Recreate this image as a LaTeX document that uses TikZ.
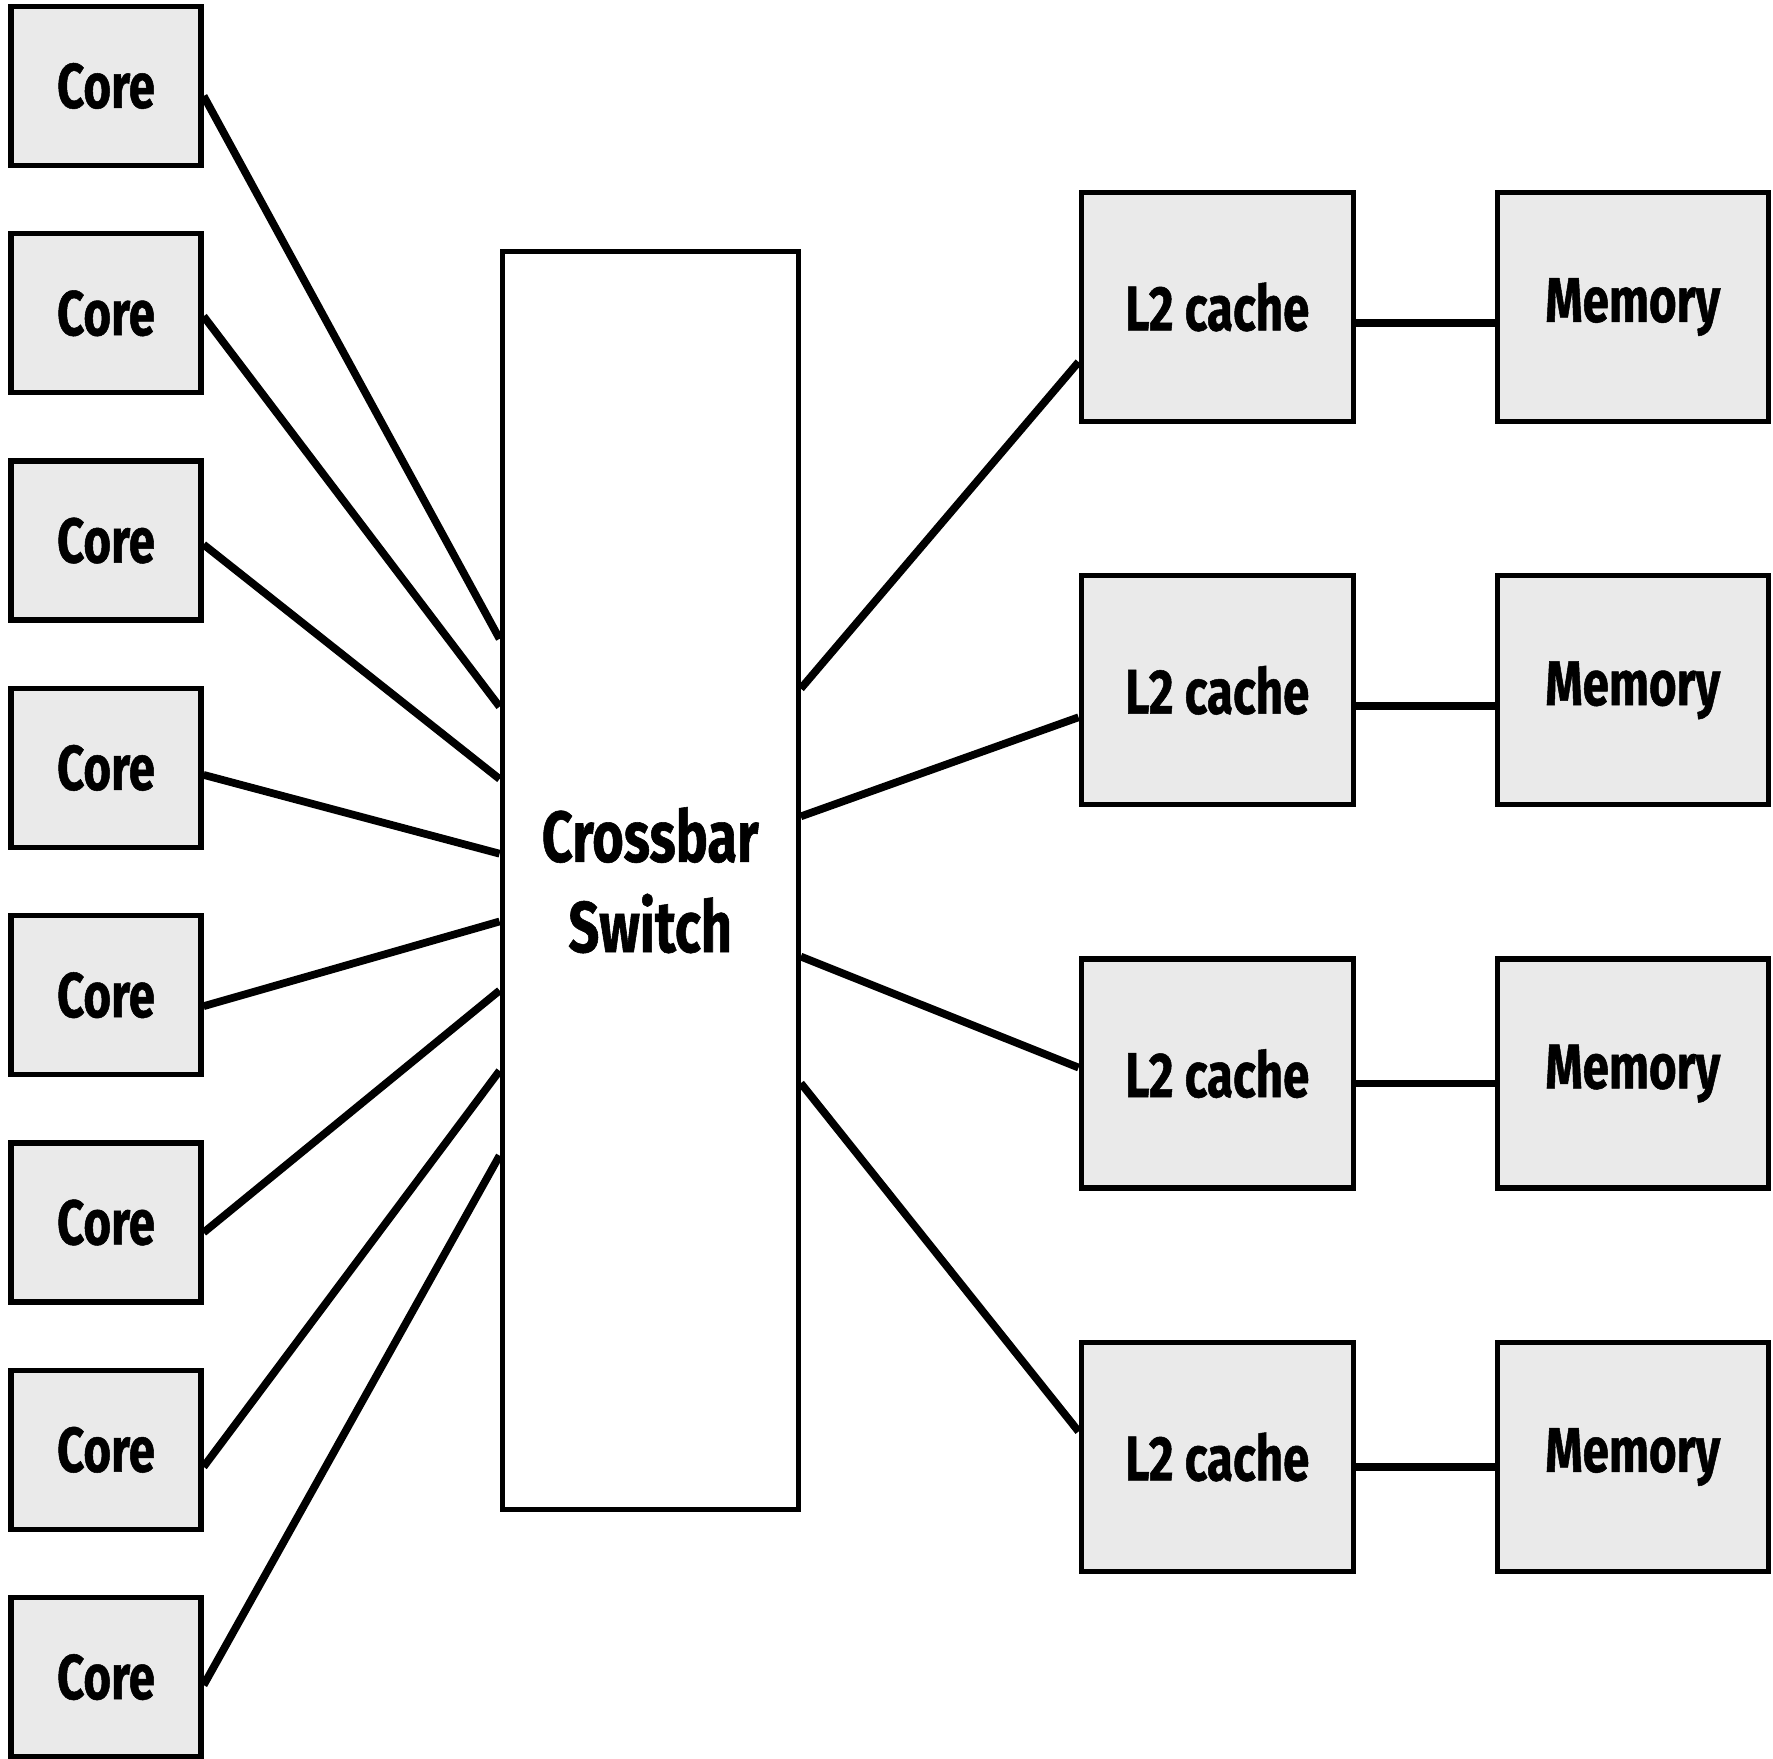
\documentclass[tikz,border=0pt]{standalone}
\usepackage{fontspec}
\usepackage{tikz}
\usetikzlibrary{positioning,calc}

\newfontfamily\condfont{Fira Sans}[FakeStretch=0.75,FakeBold=0.8]
\definecolor{boxgray}{HTML}{EAEAEA}

\tikzset{
  unit/.style={draw, line width=1.5pt, fill=boxgray, inner sep=0pt,
    font=\condfont\bfseries\fontsize{18}{25.7}\selectfont},
  core/.style={unit, minimum width=1.9cm, minimum height=1.59cm},
  cache/.style={unit, minimum width=2.72cm, minimum height=2.29cm},
  link/.style={line width=2.2pt}
}

\begin{document}
\begin{tikzpicture}
                \useasboundingbox (0,0) rectangle (17.73,17.58);

                % Cores on the left
                \node[core] (core1) at (1.06,16.72) {Core};
                \node[core] (core2) at (1.06,14.447) {Core};
                \node[core] (core3) at (1.06,12.174) {Core};
                \node[core] (core4) at (1.06,9.901) {Core};
                \node[core] (core5) at (1.06,7.628) {Core};
                \node[core] (core6) at (1.06,5.355) {Core};
                \node[core] (core7) at (1.06,3.082) {Core};
                \node[core] (core8) at (1.06,0.809) {Core};

                % Crossbar in the middle
                \node[unit, fill=white, minimum width=2.96cm, minimum height=12.58cm,
                      align=center, font=\condfont\bfseries\fontsize{20.5}{25.7}\selectfont]
                      (xbar) at (6.502,8.778) {Crossbar\\Switch};

                % L2 caches and memories on the right
                \node[cache] (l2a) at (12.172,14.51) {L2 cache};
                \node[cache] (l2b) at (12.172,10.677) {L2 cache};
                \node[cache] (l2c) at (12.172,6.844) {L2 cache};
                \node[cache] (l2d) at (12.172,3.01) {L2 cache};
                \node[cache, minimum width=2.71cm] (mema) at (16.328,14.51) {Memory};
                \node[cache, minimum width=2.71cm] (memb) at (16.328,10.677) {Memory};
                \node[cache, minimum width=2.71cm] (memc) at (16.328,6.844) {Memory};
                \node[cache, minimum width=2.71cm] (memd) at (16.328,3.01) {Memory};

                % Cores to crossbar
                \draw[link] ([yshift=-0.1cm]core1.east) -- ([yshift=2.413cm]xbar.west);
                \draw[link] ([yshift=-0.03cm]core2.east) -- ([yshift=1.735cm]xbar.west);
                \draw[link] ([yshift=-0.04cm]core3.east) -- ([yshift=1.012cm]xbar.west);
                \draw[link] ([yshift=-0.07cm]core4.east) -- ([yshift=0.265cm]xbar.west);
                \draw[link] ([yshift=-0.11cm]core5.east) -- ([yshift=-0.413cm]xbar.west);
                \draw[link] ([yshift=-0.1cm]core6.east) -- ([yshift=-1.103cm]xbar.west);
                \draw[link] ([yshift=-0.17cm]core7.east) -- ([yshift=-1.906cm]xbar.west);
                \draw[link] ([yshift=-0.08cm]core8.east) -- ([yshift=-2.754cm]xbar.west);

                % Crossbar to L2 caches
                \draw[link] ([yshift=1.916cm]xbar.east) -- ([yshift=-0.55cm]l2a.west);
                \draw[link] ([yshift=0.638cm]xbar.east) -- ([yshift=-0.27cm]l2b.west);
                \draw[link] ([yshift=-0.764cm]xbar.east) -- ([yshift=0.06cm]l2c.west);
                \draw[link] ([yshift=-2.03cm]xbar.east) -- ([yshift=0.255cm]l2d.west);

                % L2 caches to memory
                \draw[link] ([yshift=-0.16cm]l2a.east) -- ([yshift=-0.16cm]mema.west);
                \draw[link] ([yshift=-0.16cm]l2b.east) -- ([yshift=-0.16cm]memb.west);
                \draw[link] ([yshift=-0.1cm]l2c.east) -- ([yshift=-0.1cm]memc.west);
                \draw[link] ([yshift=-0.1cm]l2d.east) -- ([yshift=-0.1cm]memd.west);
            \end{tikzpicture}
\end{document}
